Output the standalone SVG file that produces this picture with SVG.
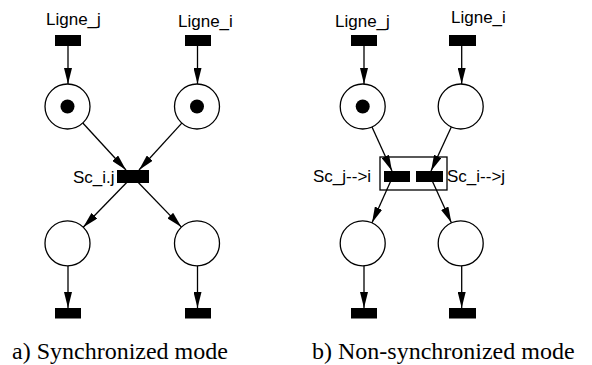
<svg xmlns="http://www.w3.org/2000/svg" width="592" height="365" viewBox="0 0 592 365">
<style>
.lbl{font-family:"Liberation Sans",Arial,sans-serif;font-size:17px;fill:#000}
.cap{font-family:"Liberation Serif","Times New Roman",serif;font-size:24px;fill:#000}
.arc{stroke:#000;stroke-width:1.3;fill:none;marker-end:url(#ah)}
.place{fill:#fff;stroke:#000;stroke-width:1.3}
.tok{fill:#000}
.tr{fill:#000}
.box{fill:none;stroke:#000;stroke-width:1.3}
</style>
<defs>
<marker id="ah" markerUnits="userSpaceOnUse" markerWidth="16" markerHeight="8" refX="16" refY="4" orient="auto" viewBox="0 0 16 8">
<path d="M0,0 L16,4 L0,8 z" fill="#000"/>
</marker>
</defs>
<rect width="592" height="365" fill="#fff"/>
<g id="connectors">
<line class="arc" x1="68" y1="46" x2="68" y2="84"/>
<line class="arc" x1="197.5" y1="46" x2="197.5" y2="84"/>
<line class="arc" x1="82.8" y1="123" x2="126" y2="170"/>
<line class="arc" x1="181.8" y1="123.1" x2="139" y2="170"/>
<line class="arc" x1="132.5" y1="176.5" x2="83.2" y2="227.2"/>
<line class="arc" x1="132.5" y1="176.5" x2="181.4" y2="227.1"/>
<line class="arc" x1="68" y1="266" x2="68" y2="308"/>
<line class="arc" x1="197.5" y1="266" x2="197.5" y2="308"/>
<line class="arc" x1="364" y1="46" x2="364" y2="84"/>
<line class="arc" x1="461.7" y1="46" x2="461.7" y2="84"/>
<line class="arc" x1="372" y1="127" x2="392" y2="171"/>
<line class="arc" x1="451.3" y1="126.9" x2="431" y2="171"/>
<line class="arc" x1="393" y1="176" x2="372" y2="222.8"/>
<line class="arc" x1="430" y1="176" x2="451.4" y2="222.8"/>
<line class="arc" x1="364" y1="266" x2="364" y2="308"/>
<line class="arc" x1="461.7" y1="266" x2="461.7" y2="308"/>
</g>
<g id="a_ligne_j"><rect class="tr" x="55" y="35" width="26" height="11"/><text class="lbl" x="46" y="25">Ligne_j</text></g>
<g id="a_ligne_i"><rect class="tr" x="185" y="35" width="26" height="11"/><text class="lbl" x="178" y="27">Ligne_i</text></g>
<g id="a_p1"><circle class="place" cx="67.5" cy="106.5" r="22.5"/><circle class="tok" cx="67.5" cy="106.5" r="7"/></g>
<g id="a_p2"><circle class="place" cx="197" cy="106.5" r="22.5"/><circle class="tok" cx="197" cy="106.5" r="7"/></g>
<g id="a_sc"><rect class="tr" x="117" y="170" width="32" height="13"/><text class="lbl" x="73" y="182.5">Sc_i.j</text></g>
<g id="a_p3"><circle class="place" cx="67.5" cy="243.3" r="22.5"/></g>
<g id="a_p4"><circle class="place" cx="197" cy="243.3" r="22.5"/></g>
<g id="a_t3"><rect class="tr" x="55" y="308" width="26" height="10.5"/></g>
<g id="a_t4"><rect class="tr" x="185" y="308" width="26" height="10.5"/></g>
<g id="b_ligne_j"><rect class="tr" x="351" y="35" width="26" height="11"/><text class="lbl" x="335" y="27">Ligne_j</text></g>
<g id="b_ligne_i"><rect class="tr" x="449" y="35" width="27" height="11"/><text class="lbl" x="451" y="23">Ligne_i</text></g>
<g id="b_p1"><circle class="place" cx="362.7" cy="106.5" r="22.5"/><circle class="tok" cx="362.7" cy="106.5" r="7"/></g>
<g id="b_p2"><circle class="place" cx="460.7" cy="106.5" r="22.5"/></g>
<g id="b_box"><rect class="box" x="380" y="157" width="67" height="33"/></g>
<g id="b_sc_ji"><rect class="tr" x="384" y="171" width="26" height="11"/><text class="lbl" x="313" y="182">Sc_j--&gt;i</text></g>
<g id="b_sc_ij"><rect class="tr" x="416" y="171" width="27" height="11"/><text class="lbl" x="447" y="182">Sc_i--&gt;j</text></g>
<g id="b_p3"><circle class="place" cx="362.7" cy="243.3" r="22.5"/></g>
<g id="b_p4"><circle class="place" cx="460.7" cy="243.3" r="22.5"/></g>
<g id="b_t3"><rect class="tr" x="351" y="308" width="26" height="10.5"/></g>
<g id="b_t4"><rect class="tr" x="449" y="308" width="27" height="10.5"/></g>
<g id="captions">
<text class="cap" x="12" y="359">a) Synchronized mode</text>
<text class="cap" x="312" y="359">b) Non-synchronized mode</text>
</g>
</svg>
